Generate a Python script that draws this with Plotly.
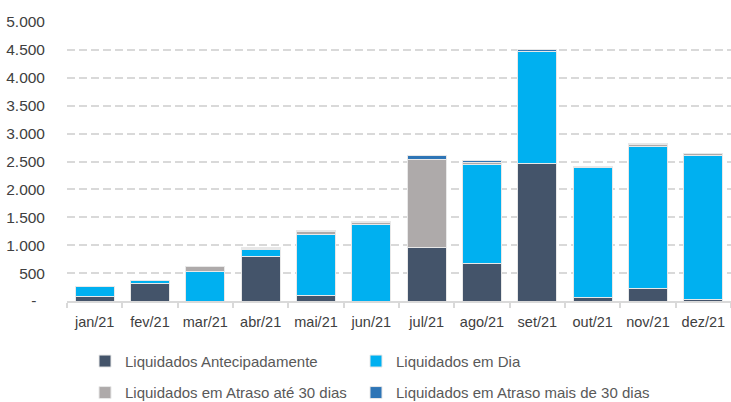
import plotly.graph_objects as go

months = ["jan/21", "fev/21", "mar/21", "abr/21", "mai/21", "jun/21",
          "jul/21", "ago/21", "set/21", "out/21", "nov/21", "dez/21"]
antecipado = [80, 320, 0, 790, 100, 0, 950, 670, 2460, 55, 220, 30]
em_dia = [180, 40, 530, 140, 1095, 1380, 0, 1785, 2010, 2330, 2540, 2570]
atraso_30 = [0, 5, 95, 5, 50, 35, 1590, 30, 5, 20, 50, 40]
atraso_mais_30 = [0, 5, 0, 20, 25, 10, 65, 40, 35, 10, 5, 5]

series_names = ["Liquidados Antecipadamente", "Liquidados em Dia",
                "Liquidados em Atraso até 30 dias", "Liquidados em Atraso mais de 30 dias"]
series_values = [antecipado, em_dia, atraso_30, atraso_mais_30]
series_colors = ["#44546A", "#00B0F0", "#AEAAAA", "#2E75B6"]
series_legend = ["legend", "legend2", "legend", "legend2"]

tick_vals = [0, 500, 1000, 1500, 2000, 2500, 3000, 3500, 4000, 4500, 5000]
tick_text = ["-\u00a0\u00a0", "500", "1.000", "1.500", "2.000", "2.500", "3.000",
             "3.500", "4.000", "4.500", "5.000"]

FONT = "Liberation Sans, Arial, sans-serif"

fig = go.Figure()
for i, (name, vals, col, lg) in enumerate(zip(series_names, series_values, series_colors, series_legend)):
    fig.add_trace(go.Bar(
        x=months, y=vals, name=name,
        legend=lg, legendgroup=f"g{i}",
        marker=dict(color=col, line=dict(color="#E8E8E8", width=1)),
    ))

legend_common = dict(
    orientation="v",
    y=-0.157, yanchor="top",
    font=dict(family=FONT, size=15, color="#595959"),
    traceorder="grouped",
    tracegroupgap=9,
    itemwidth=30,
    bgcolor="rgba(0,0,0,0)",
)

fig.update_layout(
    barmode="stack",
    bargap=0.29,
    width=731, height=402,
    margin=dict(l=67, r=0, t=22, b=101, autoexpand=False),
    plot_bgcolor="white", paper_bgcolor="white",
    font=dict(family=FONT, size=15, color="#404040"),
    showlegend=True,
    legend=dict(x=(85 - 67) / 664, xanchor="left", **legend_common),
    legend2=dict(x=(356 - 67) / 664, xanchor="left", **legend_common),
)
fig.update_yaxes(
    range=[0, 5000],
    tickvals=tick_vals, ticktext=tick_text,
    showgrid=True, gridcolor="#D9D9D9", gridwidth=1.5, griddash="8px,4px",
    zeroline=False, showline=False, ticks="",
    ticklabelstandoff=21,
    tickfont=dict(family=FONT, size=15.5, color="#404040"),
)
fig.update_xaxes(
    showline=True, linecolor="#D9D9D9", linewidth=1.5,
    ticks="outside", tickson="boundaries", ticklen=5, tickcolor="#D9D9D9", tickwidth=1.5,
    showgrid=False, tickangle=0, ticklabelstandoff=7,
    tickfont=dict(family=FONT, size=14.5, color="#404040"),
)

fig.write_html(
    "out.html",
    config={"displayModeBar": False},
    post_script="document.body.style.margin='0';document.body.style.padding='0';",
)
